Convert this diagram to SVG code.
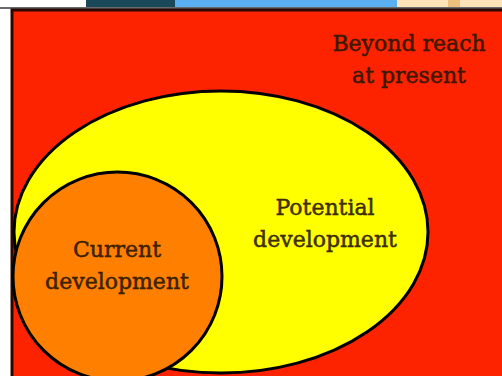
<svg xmlns="http://www.w3.org/2000/svg" width="502" height="376" viewBox="0 0 502 376">
  <defs>
    <style>
      .lbl { font-family: "DejaVu Serif", "Liberation Serif", serif; font-size: 22px; fill: #2b1800; stroke: #2b1800; stroke-width: 0.45; fill-opacity: 0.9; text-anchor: middle; }
      .shape { stroke: #000; stroke-width: 3; }
    </style>
  </defs>
  <rect x="0" y="0" width="502" height="376" fill="#ffffff"/>
  <g id="banner">
    <rect x="86" y="0" width="89" height="7" fill="#1a4a5a"/>
    <rect x="175" y="0" width="222" height="7" fill="#5ab0f0"/>
    <rect x="397" y="0" width="105" height="7" fill="#fde3b8"/>
    <rect x="448" y="0" width="12" height="7" fill="#eec07e"/>
  </g>
  <rect x="0" y="7" width="502" height="2" fill="#6a6a6a"/>
  <g id="beyond">
    <rect x="12" y="10" width="492" height="370" fill="#fd2300" stroke="#2a0800" stroke-width="3"/>
    <text class="lbl" x="409" y="51">Beyond reach</text>
    <text class="lbl" x="409" y="83">at present</text>
  </g>
  <g id="potential">
    <ellipse class="shape" cx="221" cy="232" rx="207" ry="141" fill="#ffff00"/>
    <text class="lbl" x="325" y="215">Potential</text>
    <text class="lbl" x="325" y="247">development</text>
  </g>
  <g id="current">
    <circle class="shape" cx="117.5" cy="276.5" r="104.5" fill="#ff7f00"/>
    <text class="lbl" x="117" y="257">Current</text>
    <text class="lbl" x="117" y="289">development</text>
  </g>
</svg>
